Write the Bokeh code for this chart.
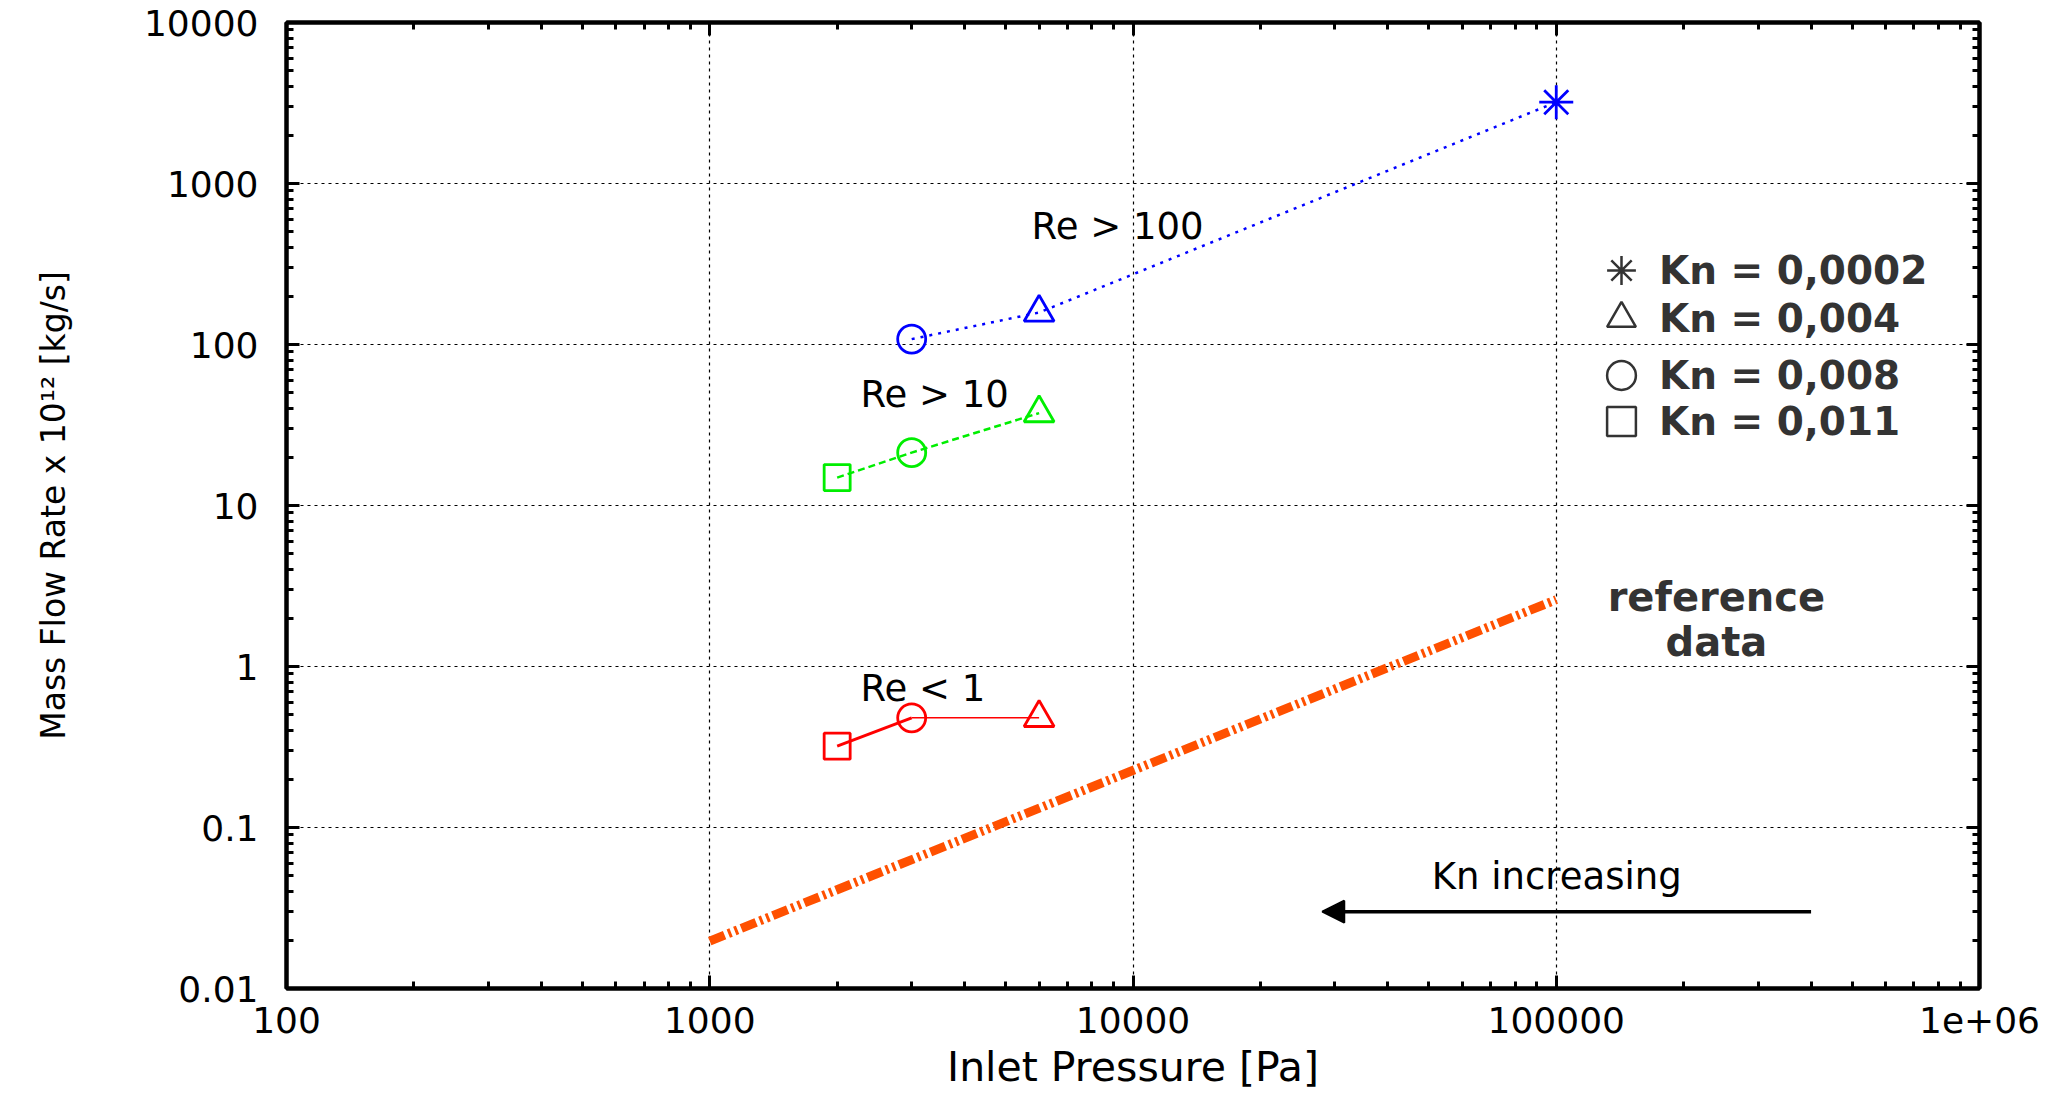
from bokeh.plotting import figure
from bokeh.models import (LogAxis, FixedTicker, Label, Arrow, NormalHead,
                          Legend, LegendItem, Range1d, ColumnDataSource)
from bokeh.embed import file_html
from bokeh.resources import INLINE

# ---------------- data ----------------
re100_pressure = [3000, 6000, 100000]
re100_flow = [108, 158, 3200]
re100_marker = ["circle", "triangle", "asterisk"]

re10_pressure = [2000, 3000, 6000]
re10_flow = [14.9, 21.3, 37.5]
re10_marker = ["square", "circle", "triangle"]

re1_pressure = [2000, 3000, 6000]
re1_flow = [0.32, 0.48, 0.48]
re1_marker = ["square", "circle", "triangle"]

ref_pressure = [1000, 100000]
ref_flow = [0.0197, 2.6]

x_ticks = [100, 1000, 10000, 100000, 1000000]
x_tick_labels = ["100", "1000", "10000", "100000", "1e+06"]
y_ticks = [0.01, 0.1, 1, 10, 100, 1000, 10000]
y_tick_labels = ["0.01", "0.1", "1", "10", "100", "1000", "10000"]

legend_labels = ["Kn = 0,0002", "Kn = 0,004", "Kn = 0,008", "Kn = 0,011"]
legend_markers = ["asterisk", "triangle", "circle", "square"]

re_labels = ["Re > 100", "Re > 10", "Re < 1"]

# ---------------- styling helpers ----------------
FONT = "DejaVu Sans"
MSIZE = {"circle": 28, "triangle": 30, "square": 26, "asterisk": 34}


def minor_positions(ticks):
    out = []
    for t in ticks[:-1]:
        for m in range(2, 10):
            out.append(t * m)
    return out


p = figure(width=2065, height=1095, x_axis_type="log", y_axis_type="log",
           x_range=Range1d(100, 1e6), y_range=Range1d(0.01, 10000),
           output_backend="svg", toolbar_location=None,
           min_border_left=286, min_border_right=86,
           min_border_top=22, min_border_bottom=107)
p.background_fill_color = "white"
p.border_fill_color = "white"
p.outline_line_color = "black"
p.outline_line_width = 4

xt = FixedTicker(ticks=x_ticks, minor_ticks=minor_positions(x_ticks))
yt = FixedTicker(ticks=y_ticks, minor_ticks=minor_positions(y_ticks))
xover = {t: l for t, l in zip(x_ticks, x_tick_labels)}
yover = {t: l for t, l in zip(y_ticks, y_tick_labels)}


def style_axis(ax):
    ax.axis_line_width = 4
    ax.axis_line_color = "black"
    ax.major_tick_in = 13
    ax.major_tick_out = 0
    ax.minor_tick_in = 7
    ax.minor_tick_out = 0
    ax.major_tick_line_width = 3
    ax.minor_tick_line_width = 3
    ax.major_label_text_font = FONT
    ax.major_label_text_color = "black"
    ax.major_label_text_font_size = "36px"


xa = p.xaxis[0]
xa.ticker = xt
xa.major_label_overrides = xover
style_axis(xa)
xa.major_label_standoff = 18
xa.axis_label = "Inlet Pressure [Pa]"
xa.axis_label_text_font = FONT
xa.axis_label_text_font_size = "41px"
xa.axis_label_text_font_style = "normal"
xa.axis_label_text_color = "black"
xa.axis_label_standoff = 7

ya = p.yaxis[0]
ya.ticker = yt
ya.major_label_overrides = yover
style_axis(ya)
ya.major_label_standoff = 28
ya.axis_label = "Mass Flow Rate x 10\u00b9\u00b2 [kg/s]"
ya.axis_label_text_font = FONT
ya.axis_label_text_font_size = "33px"
ya.axis_label_text_font_style = "normal"
ya.axis_label_text_color = "black"
ya.axis_label_standoff = 68

# mirrored tick marks on top and right (no labels)
top = LogAxis(ticker=xt, major_label_overrides={t: "" for t in x_ticks})
style_axis(top)
top.major_label_text_font_size = "8px"
top.major_label_standoff = 0
p.add_layout(top, "above")
right = LogAxis(ticker=yt, major_label_overrides={t: "" for t in y_ticks})
style_axis(right)
right.major_label_text_font_size = "8px"
right.major_label_standoff = 0
p.add_layout(right, "right")

for g in (p.xgrid[0], p.ygrid[0]):
    g.grid_line_color = "black"
    g.grid_line_width = 1.2
    g.grid_line_dash = "3 4"
    g.minor_grid_line_color = None

# ---------------- reference data line ----------------
p.line(ref_pressure, ref_flow, line_color="#FF5000", line_width=9,
       line_dash="16 4 3 4 3 4")

# ---------------- series ----------------
p.line(re100_pressure, re100_flow, line_color="blue", line_width=2.5,
       line_dash="3 6")
p.line(re10_pressure, re10_flow, line_color="#00EE00", line_width=2.5,
       line_dash="7 4")
p.line(re1_pressure[:2], re1_flow[:2], line_color="red", line_width=3)
p.line(re1_pressure[1:], re1_flow[1:], line_color="red", line_width=1.5)


def add_markers(xs, ys, markers, color):
    src = ColumnDataSource(dict(x=xs, y=ys, marker=markers,
                                size=[MSIZE[m] for m in markers]))
    p.scatter(x="x", y="y", marker="marker", size="size", source=src,
              line_color=color, fill_color=None, line_width=2.8)


add_markers(re100_pressure, re100_flow, re100_marker, "blue")
add_markers(re10_pressure, re10_flow, re10_marker, "#00EE00")
add_markers(re1_pressure, re1_flow, re1_marker, "red")

# ---------------- annotations ----------------
for txt, x, y in zip(re_labels, [5760, 2270, 2270], [540, 49, 0.73]):
    p.add_layout(Label(x=x, y=y, text=txt, text_font=FONT,
                       text_font_size="37px", text_color="black",
                       text_align="left", text_baseline="middle"))

p.add_layout(Label(x=50800, y=0.0498, text="Kn increasing", text_font=FONT,
                   text_font_size="37px", text_color="black",
                   text_align="left", text_baseline="middle"))
p.add_layout(Arrow(end=NormalHead(size=22, fill_color="black",
                                  line_color="black", line_width=2),
                   x_start=400000, y_start=0.03, x_end=28000, y_end=0.03,
                   line_color="black", line_width=3.5))

for txt, y in zip(["reference", "data"], [2.72, 1.41]):
    p.add_layout(Label(x=239000, y=y, text=txt, text_font=FONT,
                       text_font_size="40px", text_font_style="bold",
                       text_color="#333333", text_align="center",
                       text_baseline="middle"))

# ---------------- legend (one entry each so rows keep their own spacing) ----
nan = float("nan")
row_centers = [271, 319, 376, 422]  # screen rows of the legend entries
for lab, mk, yc in zip(legend_labels, legend_markers, row_centers):
    r = p.scatter(x=[nan], y=[nan], marker=mk, line_color="#333333",
                  fill_color=None, line_width=2.5)
    lg = Legend(items=[LegendItem(label=lab, renderers=[r])],
                location=(1620 - 286 - 35, 988 - yc - 35),
                glyph_width=72, glyph_height=72, label_standoff=2,
                padding=0, margin=0, spacing=0,
                background_fill_alpha=0, border_line_alpha=0,
                label_text_font=FONT, label_text_font_size="39px",
                label_text_font_style="bold", label_text_color="#333333")
    p.add_layout(lg)

open("out.html", "w").write(file_html(p, INLINE))
